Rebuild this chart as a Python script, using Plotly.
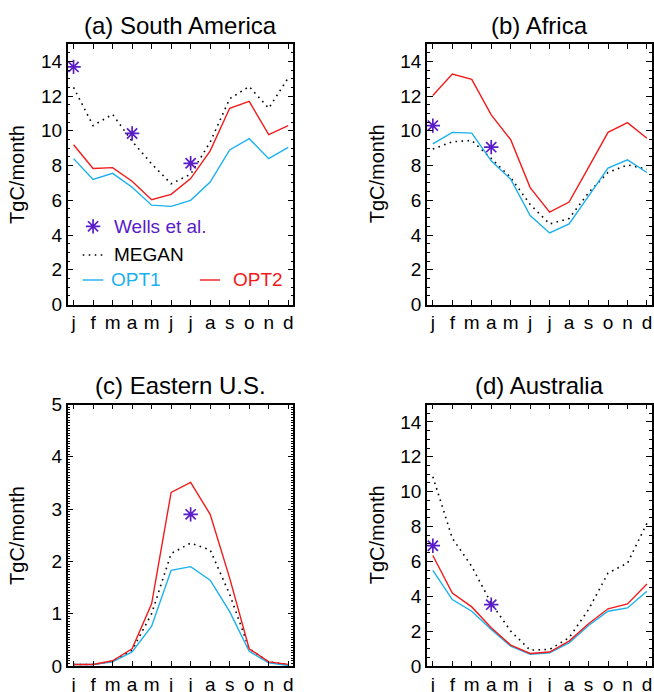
import plotly.graph_objects as go

# ---------------- data ----------------
month_labels = ["j", "f", "m", "a", "m", "j", "j", "a", "s", "o", "n", "d"]
month_idx = list(range(1, 13))

sa_megan = [12.5, 10.3, 10.95, 9.4, 8.1, 6.95, 7.5, 9.35, 11.85, 12.55, 11.3, 13.05]
sa_opt1 = [8.4, 7.2, 7.55, 6.75, 5.72, 5.65, 6.0, 7.05, 8.9, 9.55, 8.4, 9.05]
sa_opt2 = [9.2, 7.83, 7.88, 7.1, 6.03, 6.34, 7.25, 8.85, 11.3, 11.7, 9.78, 10.3]
sa_wells_m = [1, 4, 7]
sa_wells = [13.68, 9.85, 8.13]

af_megan = [8.95, 9.37, 9.45, 8.41, 7.31, 5.76, 4.64, 4.95, 6.44, 7.6, 8.04, 7.79]
af_opt1 = [9.25, 9.91, 9.87, 8.27, 7.21, 5.12, 4.12, 4.64, 6.24, 7.85, 8.33, 7.6]
af_opt2 = [12.04, 13.27, 12.96, 10.92, 9.49, 6.73, 5.32, 5.9, 7.9, 9.91, 10.47, 9.57]
af_wells_m = [1, 4]
af_wells = [10.3, 9.06]

us_megan = [0.03, 0.03, 0.09, 0.3, 1.0, 2.15, 2.35, 2.22, 1.37, 0.33, 0.08, 0.03]
us_opt1 = [0.03, 0.03, 0.08, 0.27, 0.76, 1.83, 1.9, 1.64, 1.04, 0.28, 0.06, 0.01]
us_opt2 = [0.03, 0.03, 0.1, 0.33, 1.19, 3.32, 3.51, 2.9, 1.68, 0.33, 0.08, 0.03]
us_wells_m = [7]
us_wells = [2.9]

au_megan = [10.86, 7.33, 5.71, 3.6, 2.0, 0.91, 0.95, 1.62, 3.24, 5.33, 5.9, 8.19]
au_opt1 = [5.49, 3.81, 3.14, 2.1, 1.14, 0.67, 0.76, 1.33, 2.32, 3.14, 3.33, 4.29]
au_opt2 = [6.34, 4.19, 3.39, 2.19, 1.2, 0.72, 0.8, 1.43, 2.42, 3.28, 3.56, 4.7]
au_wells_m = [1, 4]
au_wells = [6.9, 3.52]

titles = ["(a) South America", "(b) Africa", "(c) Eastern U.S.", "(d) Australia"]
y_title = "TgC/month"
legend_names = ["Wells et al.", "MEGAN", "OPT1", "OPT2"]

# ---------------- styles ----------------
C_MEGAN = "black"
C_OPT1 = "#1AB0F0"
C_OPT2 = "#F21B1B"
C_WELLS = "#5A1CC8"
FONT = "Liberation Sans, Arial, Helvetica, sans-serif"
W, H = 654, 692

panels = [
    (sa_megan, sa_opt1, sa_opt2, sa_wells_m, sa_wells, 15, 2, 0.5),
    (af_megan, af_opt1, af_opt2, af_wells_m, af_wells, 15, 2, 0.5),
    (us_megan, us_opt1, us_opt2, us_wells_m, us_wells, 5, 1, 0.05),
    (au_megan, au_opt1, au_opt2, au_wells_m, au_wells, 15, 2, 0.5),
]

# pixel boxes of each plot frame: (left, right, top, bottom)
boxes = [(67.7, 293.3, 44, 304.5), (427, 652, 44, 304.5),
         (67.7, 293.3, 404.5, 666), (427, 652, 404.5, 666)]

fig = go.Figure()
layout = dict(width=W, height=H, margin=dict(l=0, r=0, t=0, b=0, pad=0, autoexpand=False),
              plot_bgcolor="white", paper_bgcolor="white", showlegend=False,
              font=dict(family=FONT, color="black", size=19))
annotations = []
shapes = []

for i, (meg, o1, o2, wm, wv, ymax, dt, mdt) in enumerate(panels):
    n = "" if i == 0 else str(i + 1)
    xa, ya = "x" + n, "y" + n
    fig.add_trace(go.Scatter(x=month_idx, y=meg, mode="lines", xaxis=xa, yaxis=ya,
                             line=dict(color=C_MEGAN, width=1.6, dash="1.6px,4.4px")))
    fig.add_trace(go.Scatter(x=month_idx, y=o1, mode="lines", xaxis=xa, yaxis=ya,
                             line=dict(color=C_OPT1, width=1.4)))
    fig.add_trace(go.Scatter(x=month_idx, y=o2, mode="lines", xaxis=xa, yaxis=ya,
                             line=dict(color=C_OPT2, width=1.4)))
    fig.add_trace(go.Scatter(x=wm, y=wv, mode="markers", xaxis=xa, yaxis=ya, cliponaxis=False,
                             marker=dict(symbol="asterisk-open", size=12, color=C_WELLS,
                                         line=dict(color=C_WELLS, width=1.7))))
    l, r, t, b = boxes[i]
    layout["xaxis" + n] = dict(
        domain=[l / W, r / W], anchor=ya, range=[0.7, 12.26], automargin=False,
        tickvals=month_idx, ticktext=month_labels, ticks="inside", ticklen=5,
        tickwidth=1.2, tickcolor="black", showline=True, linecolor="black", linewidth=1.5,
        mirror="ticks", showgrid=False, zeroline=False, tickfont=dict(size=19))
    layout["yaxis" + n] = dict(
        domain=[1 - b / H, 1 - t / H], anchor=xa, range=[0, ymax], dtick=dt, tick0=0,
        automargin=False,
        ticks="inside", ticklen=6, tickwidth=1.2, tickcolor="black", showline=True,
        linecolor="black", linewidth=1.5, mirror="ticks", showgrid=False, zeroline=False,
        tickfont=dict(size=19),
        minor=dict(dtick=mdt, ticks="inside", ticklen=3, tickcolor="black", tickwidth=1,
                   showgrid=False))
    # panel title
    annotations.append(dict(text=titles[i], xref="paper", yref="paper",
                            x=(l + r) / 2 / W, y=1 - (t - 19) / H, xanchor="center",
                            yanchor="middle", showarrow=False, font=dict(size=24)))
    # y axis title
    annotations.append(dict(text=y_title, xref="paper", yref="paper",
                            x=(l - 50) / W, y=1 - (t + b) / 2 / H, xanchor="center",
                            yanchor="middle", textangle=-90, showarrow=False,
                            font=dict(size=20)))

# ---------------- legend in panel (a) ----------------
def px(xp):
    return xp / W

def py(yp):
    return 1 - yp / H

fig.add_trace(go.Scatter(x=[2], y=[4.5], mode="markers", xaxis="x", yaxis="y",
                         marker=dict(symbol="asterisk-open", size=12, color=C_WELLS,
                                     line=dict(color=C_WELLS, width=1.7))))
annotations.append(dict(text=legend_names[0], xref="paper", yref="paper", x=px(112), y=py(226.5),
                        xanchor="left", yanchor="middle", showarrow=False,
                        font=dict(size=19, color=C_WELLS)))
shapes.append(dict(type="line", xref="paper", yref="paper", x0=px(82.7), x1=px(103.3),
                   y0=py(255), y1=py(255), line=dict(color=C_MEGAN, width=1.6, dash="1.6px,4.4px")))
annotations.append(dict(text=legend_names[1], xref="paper", yref="paper", x=px(112), y=py(254),
                        xanchor="left", yanchor="middle", showarrow=False,
                        font=dict(size=19, color="black")))
shapes.append(dict(type="line", xref="paper", yref="paper", x0=px(82.7), x1=px(103.3),
                   y0=py(280), y1=py(280), line=dict(color=C_OPT1, width=1.4)))
annotations.append(dict(text=legend_names[2], xref="paper", yref="paper", x=px(109), y=py(279.5),
                        xanchor="left", yanchor="middle", showarrow=False,
                        font=dict(size=19, color=C_OPT1)))
shapes.append(dict(type="line", xref="paper", yref="paper", x0=px(200), x1=px(220),
                   y0=py(280), y1=py(280), line=dict(color=C_OPT2, width=1.4)))
annotations.append(dict(text=legend_names[3], xref="paper", yref="paper", x=px(230.5), y=py(279.5),
                        xanchor="left", yanchor="middle", showarrow=False,
                        font=dict(size=19, color=C_OPT2)))

layout["annotations"] = annotations
layout["shapes"] = shapes
fig.update_layout(**layout)
fig.write_html("out.html", config={"displayModeBar": False},
               post_script="document.body.style.margin='0';document.body.style.padding='0';"
                           "document.body.style.overflow='hidden';")
